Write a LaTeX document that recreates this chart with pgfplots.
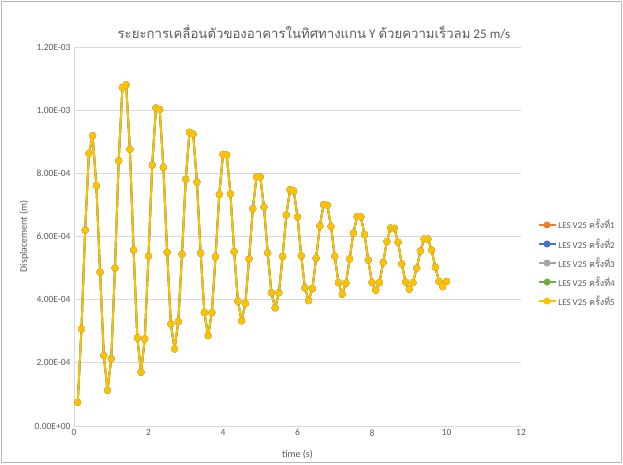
\documentclass[border=0pt]{standalone}
\usepackage{fontspec}
\setmainfont{Carlito}
\newfontfamily\thaifont[Script=Thai]{Loma}
\usepackage{pgfplots}
\pgfplotsset{compat=1.18}
\usepackage{pgfplotstable}
\definecolor{sOrange}{HTML}{ED7D31}
\definecolor{sBlue}{HTML}{4472C4}
\definecolor{sGray}{HTML}{A5A5A5}
\definecolor{sGreen}{HTML}{70AD47}
\definecolor{sYellow}{HTML}{FFC000}
\definecolor{txt}{HTML}{595959}
\definecolor{gridc}{HTML}{D9D9D9}
% displacement in units of 1e-4 m
\pgfplotstableread{
t y
0.1 0.75
0.2 3.07
0.3 6.20
0.4 8.63
0.5 9.19
0.6 7.61
0.7 4.87
0.8 2.23
0.9 1.13
1.0 2.13
1.1 5.00
1.2 8.40
1.3 10.72
1.4 10.81
1.5 8.76
1.6 5.57
1.7 2.79
1.8 1.70
1.9 2.76
2.0 5.38
2.1 8.26
2.2 10.07
2.3 10.02
2.4 8.19
2.5 5.50
2.6 3.23
2.7 2.44
2.8 3.31
2.9 5.44
3.0 7.81
3.1 9.30
3.2 9.24
3.3 7.72
3.4 5.47
3.5 3.59
3.6 2.86
3.7 3.59
3.8 5.36
3.9 7.33
4.0 8.60
4.1 8.58
4.2 7.35
4.3 5.52
4.4 3.95
4.5 3.33
4.6 3.88
4.7 5.29
4.8 6.88
4.9 7.89
5.0 7.89
5.1 6.93
5.2 5.48
5.3 4.22
5.4 3.74
5.5 4.22
5.6 5.37
5.7 6.68
5.8 7.48
5.9 7.44
6.0 6.62
6.1 5.39
6.2 4.37
6.3 3.97
6.4 4.35
6.5 5.31
6.6 6.33
6.7 7.01
6.8 6.99
6.9 6.32
7.0 5.37
7.1 4.54
7.2 4.17
7.3 4.52
7.4 5.29
7.5 6.11
7.6 6.63
7.7 6.62
7.8 6.06
7.9 5.25
8.0 4.54
8.1 4.30
8.2 4.54
8.3 5.18
8.4 5.84
8.5 6.27
8.6 6.26
8.7 5.82
8.8 5.13
8.9 4.56
9.0 4.33
9.1 4.54
9.2 5.00
9.3 5.54
9.4 5.92
9.5 5.92
9.6 5.57
9.7 5.03
9.8 4.58
9.9 4.41
10.0 4.58
}\dataA
\begin{document}
\begin{tikzpicture}
\useasboundingbox (0pt,0pt) rectangle (623pt,464pt);
\draw[color=gray!55, line width=0.8pt] (1.5pt,1.5pt) rectangle (621.5pt,462.5pt);
\node[text=txt, font=\fontsize{13.2}{16}\selectfont] at (314pt,432pt)
  {{\thaifont ระยะการเคลื่อนตัวของอาคารในทิศทางแกน} Y {\thaifont ด้วยความเร็วลม} 25 m/s};
\begin{axis}[
  at={(74pt,38pt)}, anchor=south west,
  scale only axis, width=447pt, height=379pt,
  xmin=0, xmax=12, ymin=0, ymax=12,
  xtick={0,2,...,12}, ytick={0,2,...,12},
  yticklabels={0.00E+00,2.00E-04,4.00E-04,6.00E-04,8.00E-04,1.00E-03,1.20E-03},
  ymajorgrids, grid style={gridc, line width=0.8pt},
  axis x line*=bottom, axis y line*=left,
  axis line style={gridc, line width=0.8pt, -},
  tick style={draw=none},
  ticklabel style={text=txt, font=\fontsize{9.5}{11}\selectfont},
  /pgf/number format/assume math mode=true,
  xlabel={time (s)}, ylabel={Displacement (m)},
  label style={text=txt, font=\fontsize{10}{12}\selectfont},
  xlabel style={at={(axis description cs:0.5,-0.0765)}, anchor=center},
  ylabel style={at={(axis description cs:-0.112,0.5)}, anchor=center},
  legend style={at={(1.03,0.43)}, anchor=west, draw=none, fill=none,
    font=\fontsize{9}{11}\selectfont, text=txt, row sep=4pt},
  legend cell align=left,
  every axis plot/.append style={line width=1.8pt, line join=round, mark=*, mark size=2.6pt, mark options={solid}},
]
\addplot[color=sOrange] table[x=t,y=y] {\dataA};
\addlegendentry{LES V25 {\thaifont ครั้งที่}1}
\addplot[color=sBlue] table[x=t,y=y] {\dataA};
\addlegendentry{LES V25 {\thaifont ครั้งที่}2}
\addplot[color=sGray] table[x=t,y=y] {\dataA};
\addlegendentry{LES V25 {\thaifont ครั้งที่}3}
\addplot[color=sGreen] table[x=t,y=y] {\dataA};
\addlegendentry{LES V25 {\thaifont ครั้งที่}4}
\addplot[color=sYellow] table[x=t,y=y] {\dataA};
\addlegendentry{LES V25 {\thaifont ครั้งที่}5}
\end{axis}
\end{tikzpicture}
\end{document}
